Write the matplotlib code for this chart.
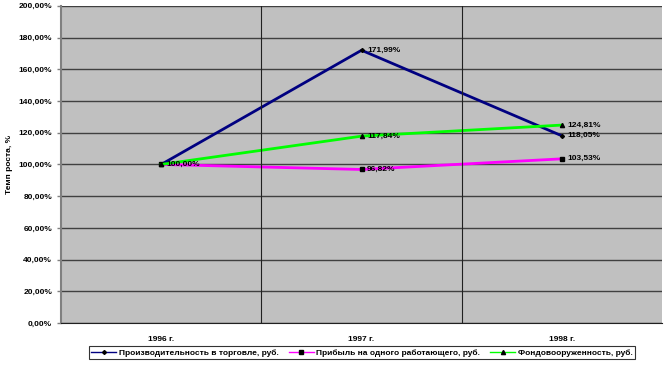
import matplotlib.pyplot as plt

years = ['1996 г.', '1997 г.', '1998 г.']
proizv = [100.00, 171.99, 118.05]
pribyl = [100.00, 96.82, 103.53]
fondo = [100.00, 117.84, 124.81]

names = ['Производительность в торговле, руб.',
         'Прибыль на одного работающего, руб.',
         'Фондовооруженность, руб.']

plt.rcParams['font.family'] = ['Liberation Sans', 'DejaVu Sans']
plt.rcParams['font.weight'] = 'bold'
plt.rcParams['font.size'] = 6

fig = plt.figure(figsize=(6.64, 3.65), dpi=100)
ax = fig.add_axes([0.092, 0.115, 0.905, 0.869])
ax.set_facecolor('#c0c0c0')

x = range(len(years))
ax.plot(x, proizv, color='#000080', lw=2, marker='D', ms=2, mfc='black', mec='black', label=names[0])
ax.plot(x, pribyl, color='#ff00ff', lw=2, marker='s', ms=3, mfc='black', mec='black', label=names[1])
ax.plot(x, fondo, color='#00ff00', lw=2, marker='^', ms=3, mfc='black', mec='black', label=names[2])

def fmt(v):
    return ('%.2f%%' % v).replace('.', ',')

for s in (proizv, pribyl, fondo):
    for i, v in enumerate(s):
        if i == 0 and s is not proizv:
            continue
        ax.annotate(fmt(v), (i, v), xytext=(4, 0), textcoords='offset points',
                    va='center', ha='left', fontsize=6, fontweight='bold')

ax.set_xlim(-0.5, 2.5)
ax.set_ylim(0, 200)
ax.set_yticks(range(0, 201, 20))
ax.set_yticklabels([fmt(v) for v in range(0, 201, 20)])
ax.set_xticks(list(x))
ax.set_xticklabels(years)
ax.tick_params(axis='x', length=0, pad=9)
ax.tick_params(axis='y', length=3, width=1, color='#808080')
ax.grid(axis='y', color='#404040', lw=1)
for b in (0.5, 1.5):
    ax.axvline(b, color='#202020', lw=0.8)
for side in ('top', 'right'):
    ax.spines[side].set_visible(False)
ax.spines['left'].set_color('#808080')
ax.spines['left'].set_linewidth(1.5)
ax.spines['bottom'].set_color('#202020')
ax.set_axisbelow(True)

ax.set_ylabel('Темп роста, %', fontsize=6, fontweight='bold', labelpad=4)

leg = fig.legend(loc='lower center', bbox_to_anchor=(0.545, 0.005), ncol=3,
                 frameon=True, fancybox=False, edgecolor='black', fontsize=6,
                 handlelength=3, columnspacing=1.2, borderpad=0.3, handletextpad=0.3)
leg.get_frame().set_linewidth(0.8)
for h in leg.legend_handles:
    h.set_linewidth(1)

fig.savefig('out.png', dpi=100)
